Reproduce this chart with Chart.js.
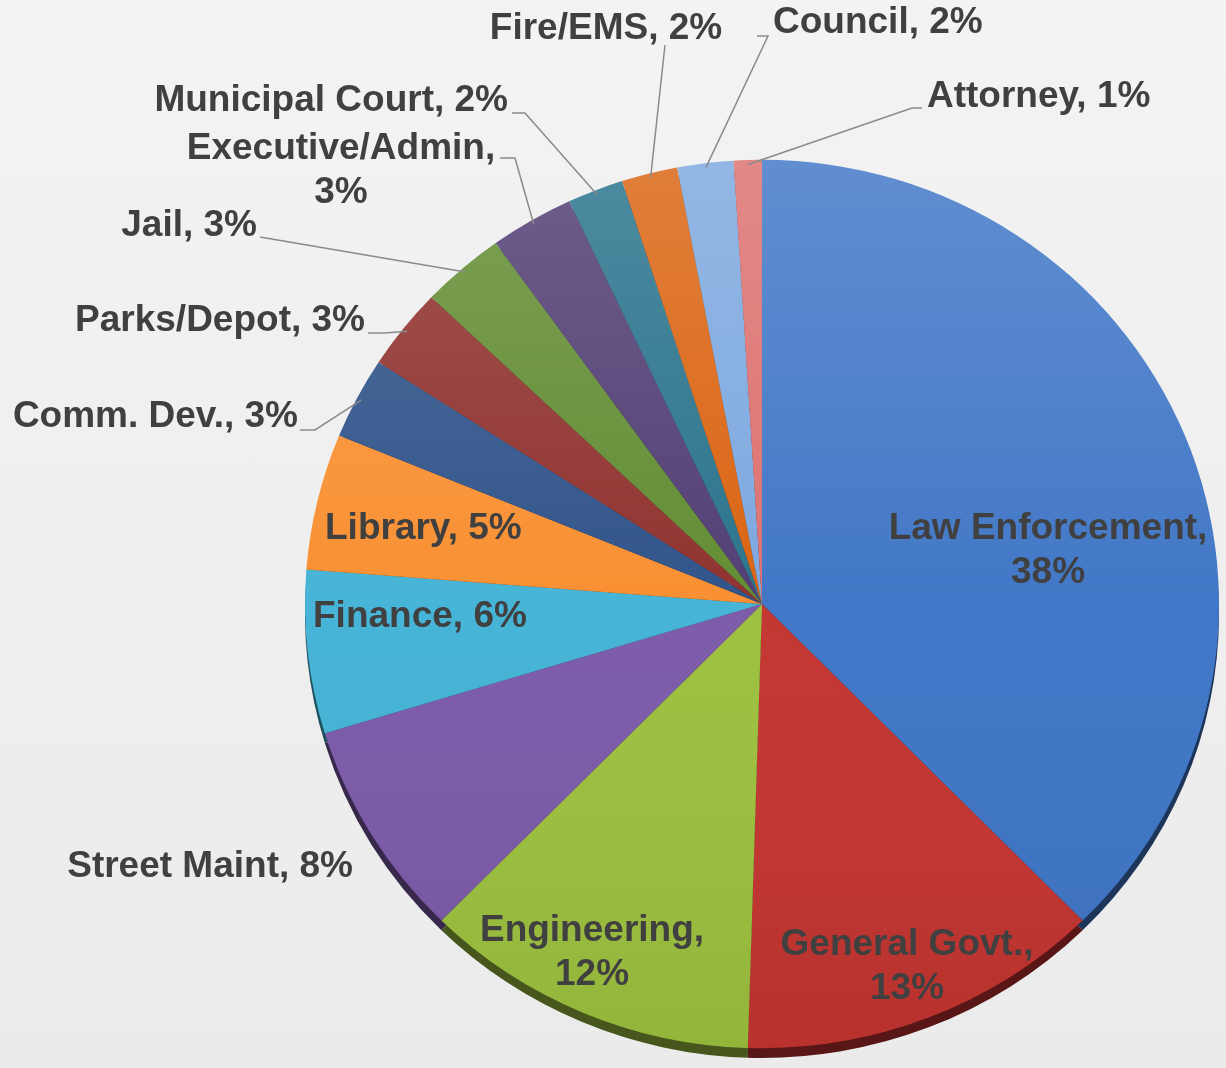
<!DOCTYPE html>
<html>
<head>
<meta charset="utf-8">
<script src="https://cdn.jsdelivr.net/npm/chart.js@4"></script>
<style>
  html, body { margin: 0; padding: 0; }
  body { background: linear-gradient(#f3f3f3, #ebebeb); width: 1226px; height: 1068px; overflow: hidden; }
  #wrap { position: relative; width: 1226px; height: 1068px; }
</style>
</head>
<body>
<div id="wrap"><canvas id="pieChart"></canvas></div>
<script>
// DATOS (porcentajes, sentido horario desde arriba)
const departments = ['Law Enforcement', 'General Govt.', 'Engineering', 'Street Maint', 'Finance', 'Library',
  'Comm. Dev.', 'Parks/Depot', 'Jail', 'Executive/Admin', 'Municipal Court', 'Fire/EMS', 'Council', 'Attorney'];
const shares = [38, 13, 12, 8, 6, 5, 3, 3, 3, 3, 2, 2, 2, 1];
const sliceColors = ['#3e75c6', '#c33430', '#9cc03e', '#7b59a8', '#43b3d6', '#f98e2f',
  '#2d5188', '#8e2f2c', '#608b30', '#4f3b72', '#27718a', '#da620f', '#7ba7df', '#dc6f6e'];

// posiciones de las etiquetas (manual, como en el original)
const labelLayout = [
  { x: 1048, y: 529, align: 'center', wrap: true },
  { x: 907, y: 945, align: 'center', wrap: true },
  { x: 592, y: 931, align: 'center', wrap: true },
  { x: 353, y: 867, align: 'right' },
  { x: 313, y: 617, align: 'left' },
  { x: 325, y: 529, align: 'left' },
  { x: 298, y: 417, align: 'right', leader: [[300, 430], [315, 430]] },
  { x: 365, y: 321, align: 'right', leader: [[368, 333], [385, 333]] },
  { x: 257, y: 226, align: 'right', leader: [[260, 237]] },
  { x: 341, y: 149, align: 'center', wrap: true, leader: [[500, 158], [515, 158]] },
  { x: 508, y: 101, align: 'right', leader: [[512, 113], [525, 113]] },
  { x: 606, y: 29, align: 'center', leader: [[665, 45]] },
  { x: 773, y: 23, align: 'left', leader: [[757, 36], [768, 36]] },
  { x: 927, y: 97, align: 'left', leader: [[922, 108], [912, 108]] }
];

const squash = 0.972; // el pastel es un poco mas ancho que alto

function shade(hex, f) {
  const n = parseInt(hex.slice(1), 16);
  const r = Math.round(((n >> 16) & 255) * f), g = Math.round(((n >> 8) & 255) * f), b = Math.round((n & 255) * f);
  return 'rgb(' + r + ',' + g + ',' + b + ')';
}

// borde 3D debajo del pastel + aplanado vertical
const rimPlugin = {
  id: 'rim',
  beforeDatasetsDraw(chart) {
    const ctx = chart.ctx;
    const arcs = chart.getDatasetMeta(0).data;
    const a0 = arcs[0];
    ctx.save();
    ctx.translate(a0.x, a0.y);
    ctx.scale(1, squash);
    ctx.translate(-a0.x, -a0.y);
    arcs.forEach((a, i) => {
      ctx.beginPath();
      ctx.moveTo(a.x, a.y + 10);
      ctx.arc(a.x, a.y + 10, a.outerRadius, a.startAngle, a.endAngle);
      ctx.closePath();
      ctx.fillStyle = shade(sliceColors[i], 0.45);
      ctx.fill();
    });
  },
  afterDatasetsDraw(chart) {
    const ctx = chart.ctx;
    const a = chart.getDatasetMeta(0).data[0];
    ctx.save();
    ctx.beginPath();
    ctx.arc(a.x, a.y, a.outerRadius, 0, Math.PI * 2);
    ctx.clip();
    const g = ctx.createLinearGradient(0, a.y - a.outerRadius, 0, a.y + a.outerRadius);
    g.addColorStop(0, 'rgba(255,255,255,0.18)');
    g.addColorStop(0.5, 'rgba(255,255,255,0.02)');
    g.addColorStop(1, 'rgba(0,0,0,0.06)');
    ctx.fillStyle = g;
    ctx.fillRect(a.x - a.outerRadius, a.y - a.outerRadius, a.outerRadius * 2, a.outerRadius * 2);
    ctx.restore();
    ctx.restore(); // fin del aplanado
  }
};

// etiquetas con lineas guia
const labelPlugin = {
  id: 'sliceLabels',
  afterDraw(chart) {
    const ctx = chart.ctx;
    const arcs = chart.getDatasetMeta(0).data;
    ctx.save();
    ctx.font = 'bold 37px "Liberation Sans", Arial, sans-serif';
    ctx.fillStyle = '#404040';
    ctx.textBaseline = 'middle';
    labelLayout.forEach((L, i) => {
      const lines = L.wrap ? [departments[i] + ',', shares[i] + '%'] : [departments[i] + ', ' + shares[i] + '%'];
      ctx.textAlign = L.align;
      lines.forEach((t, k) => ctx.fillText(t, L.x, L.y + k * 44));
      if (L.leader) {
        const a = arcs[i];
        const mid = (a.startAngle + a.endAngle) / 2;
        const ex = a.x + Math.cos(mid) * a.outerRadius * 0.99;
        const ey = a.y + Math.sin(mid) * a.outerRadius * 0.99 * squash;
        ctx.beginPath();
        ctx.moveTo(L.leader[0][0], L.leader[0][1]);
        L.leader.slice(1).forEach(p => ctx.lineTo(p[0], p[1]));
        ctx.lineTo(ex, ey);
        ctx.strokeStyle = '#8a8a8a';
        ctx.lineWidth = 1.5;
        ctx.stroke();
      }
    });
    ctx.restore();
  }
};

const ctxPie = document.getElementById('pieChart').getContext('2d');
new Chart(ctxPie, {
  type: 'pie',
  data: {
    labels: departments,
    datasets: [{
      data: shares,
      backgroundColor: sliceColors,
      borderWidth: 0,
      hoverOffset: 0
    }]
  },
  options: {
    responsive: true,
    maintainAspectRatio: false,
    animation: false,
    layout: { padding: { left: 305, right: 7, top: 147, bottom: 7 } },
    plugins: { legend: { display: false }, tooltip: { enabled: false } }
  },
  plugins: [rimPlugin, labelPlugin]
});
</script>
</body>
</html>
